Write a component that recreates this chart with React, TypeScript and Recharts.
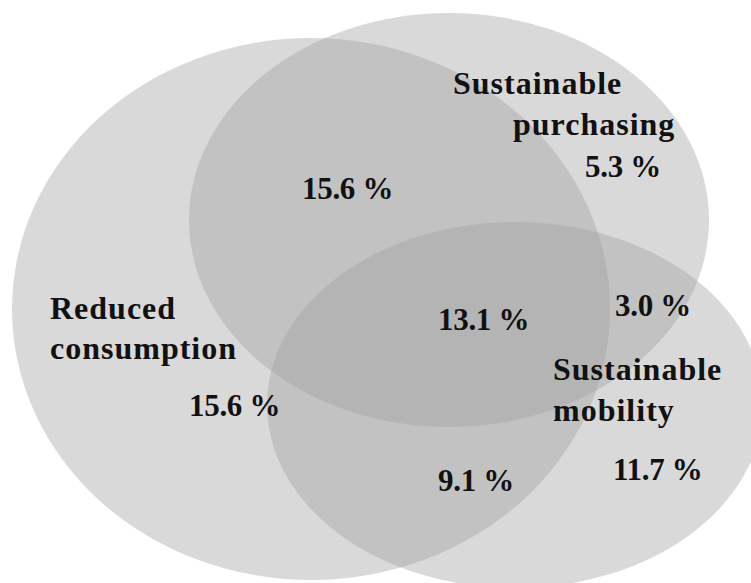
import React from 'react';
import { ScatterChart, Scatter, XAxis, YAxis } from 'recharts';

// canvas units (x to the right, y downward), one unit per pixel
const W = 751;
const H = 583;

const SET_NAMES = ['Reduced consumption', 'Sustainable purchasing', 'Sustainable mobility'];
const SET_CX = [311, 449, 515];
const SET_CY = [309, 220, 405];
const SET_RX = [299, 260, 248];
const SET_RY = [271, 207, 183];

// set name labels (one entry per line)
const NAME_LINES = ['Sustainable', 'purchasing', 'Reduced', 'consumption', 'Sustainable', 'mobility'];
const NAME_X = [453, 513, 50, 50, 553, 553];
const NAME_Y = [94, 135, 319, 359, 380, 421];

// region shares
const SHARE_TEXT = ['5.3 %', '15.6 %', '15.6 %', '13.1 %', '3.0 %', '9.1 %', '11.7 %'];
const SHARE_X = [585, 302, 189, 438, 615, 438, 613];
const SHARE_Y = [177, 199, 416, 330, 316, 491, 480];

const sets = SET_NAMES.map((name, i) => ({
  name,
  x: SET_CX[i],
  y: SET_CY[i],
  rx: SET_RX[i],
  ry: SET_RY[i],
}));

const names = NAME_LINES.map((text, i) => ({ text, x: NAME_X[i], y: NAME_Y[i] }));
const shares = SHARE_TEXT.map((text, i) => ({ text, x: SHARE_X[i], y: SHARE_Y[i] }));

const kx = W / W;
const ky = H / H;

const EllipseShape = (props: any) => {
  const { cx, cy, payload } = props;
  return (
    <ellipse
      cx={cx}
      cy={cy}
      rx={payload.rx * kx}
      ry={payload.ry * ky}
      fill="#a0a0a0"
      fillOpacity={0.4}
    />
  );
};

const makeText = (size: number, spacing: number) => (props: any) => {
  const { cx, cy, payload } = props;
  return (
    <text
      x={cx}
      y={cy}
      fill="#111"
      fontFamily="'Liberation Serif', serif"
      fontWeight="bold"
      fontSize={size}
      letterSpacing={spacing}
    >
      {payload.text}
    </text>
  );
};

export default function App() {
  return (
    <div style={{ position: 'absolute', left: 0, top: 0, width: W, height: H, background: '#fff' }}>
      <ScatterChart width={W} height={H} margin={{ top: 0, right: 0, bottom: 0, left: 0 }}>
        <XAxis type="number" dataKey="x" domain={[0, W]} hide allowDataOverflow />
        <YAxis type="number" dataKey="y" domain={[0, H]} reversed hide allowDataOverflow />
        <Scatter data={sets} shape={EllipseShape} isAnimationActive={false} />
        <Scatter data={names} shape={makeText(32, 1)} isAnimationActive={false} />
        <Scatter data={shares} shape={makeText(31, -0.3)} isAnimationActive={false} />
      </ScatterChart>
    </div>
  );
}
